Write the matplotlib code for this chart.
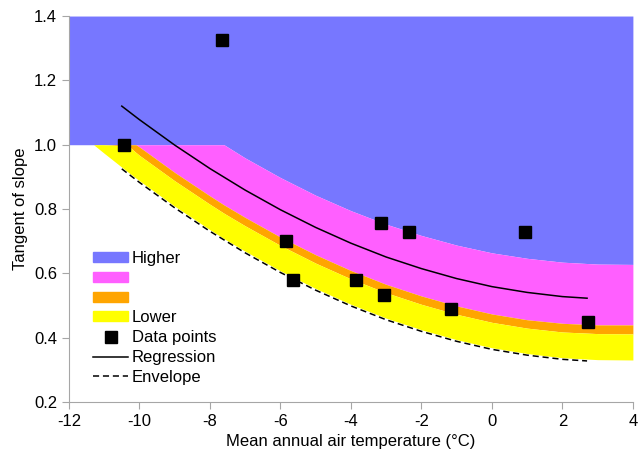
import matplotlib.pyplot as plt
from matplotlib.patches import Patch
from matplotlib.lines import Line2D

plt.rcParams['font.family'] = ['Liberation Sans', 'DejaVu Sans']
plt.rcParams['axes.unicode_minus'] = False

# data points
temp = [-10.45, -7.66, -5.84, -5.65, -3.15, -2.35, -3.86, -3.06, -1.16, 0.94, 2.72]
slope = [1.0, 1.325, 0.70, 0.58, 0.757, 0.729, 0.58, 0.533, 0.489, 0.729, 0.449]

# regression curve
reg_x = [-10.5, -10, -9, -8, -7, -6, -5, -4, -3, -2, -1, 0, 1, 2, 2.7]
reg_y = [1.120, 1.078, 0.999, 0.926, 0.859, 0.798, 0.743, 0.694, 0.651, 0.615,
         0.584, 0.559, 0.541, 0.528, 0.523]

# envelope curve
env_x = [-10.5, -10, -9, -8, -7, -6, -5, -4, -3, -2, -1, 0, 1, 2, 2.7]
env_y = [0.925, 0.883, 0.804, 0.731, 0.664, 0.603, 0.548, 0.499, 0.456, 0.420,
         0.389, 0.364, 0.346, 0.333, 0.328]

# band boundaries
band_x = [-12, -11.3, -11, -10.3, -10.1, -10, -9, -8, -7.6, -7, -6, -5, -4, -3,
          -2, -1, 0, 1, 2, 3, 4]
magenta_top = [1.0, 1.0, 1.0, 1.0, 1.0, 1.0, 1.0, 1.0, 1.0, 0.959, 0.898, 0.843,
               0.795, 0.753, 0.718, 0.688, 0.664, 0.647, 0.635, 0.629, 0.628]
orange_top = [1.0, 1.0, 1.0, 1.0, 1.0, 0.993, 0.914, 0.841, 0.813, 0.774, 0.713,
              0.658, 0.609, 0.566, 0.530, 0.499, 0.474, 0.456, 0.445, 0.440, 0.440]
orange_bot = [1.0, 1.0, 1.0, 0.995, 0.976, 0.967, 0.888, 0.815, 0.787, 0.748, 0.687,
              0.632, 0.583, 0.540, 0.504, 0.473, 0.448, 0.430, 0.418, 0.413, 0.412]
yellow_bot = [1.0, 1.0, 0.9735, 0.913, 0.8965, 0.888, 0.809, 0.736, 0.708, 0.669,
              0.608, 0.553, 0.504, 0.461, 0.425, 0.394, 0.369, 0.351, 0.338, 0.332,
              0.331]

c_blue = '#7777FF'
c_mag = '#FF5FFF'
c_orange = '#FFA500'
c_yellow = '#FFFF00'

fig = plt.figure(figsize=(6.38, 4.58), dpi=100)
ax = fig.add_axes([0.108, 0.122, 0.884, 0.843])

ax.fill_between(band_x, magenta_top, 1.4, color=c_blue, lw=0)
ax.fill_between(band_x, orange_top, magenta_top, color=c_mag, lw=0)
ax.fill_between(band_x, orange_bot, orange_top, color=c_orange, lw=0)
ax.fill_between(band_x, yellow_bot, orange_bot, color=c_yellow, lw=0)

ax.plot(reg_x, reg_y, color='black', lw=1.1)
ax.plot(env_x, env_y, color='black', lw=1.1, ls=(0, (4, 2.5)))
ax.plot(temp, slope, ls='none', marker='s', ms=8.5, color='black')

ax.set_xlim(-12, 4)
ax.set_ylim(0.2, 1.4)
ax.set_xticks(range(-12, 5, 2))
ax.set_yticks([0.2, 0.4, 0.6, 0.8, 1.0, 1.2, 1.4])
ax.set_yticklabels(['0.2', '0.4', '0.6', '0.8', '1.0', '1.2', '1.4'])

for s in ['top', 'right']:
    ax.spines[s].set_visible(False)
for s in ['left', 'bottom']:
    ax.spines[s].set_color('#A6A6A6')
ax.tick_params(colors='#A6A6A6', labelcolor='black', labelsize=12, length=5)

ax.set_xlabel('Mean annual air temperature (°C)', fontsize=12)
ax.set_ylabel('Tangent of slope', fontsize=12)

handles = [
    Patch(color=c_blue, label='Higher'),
    Patch(color=c_mag, label=' '),
    Patch(color=c_orange, label=' '),
    Patch(color=c_yellow, label='Lower'),
    Line2D([], [], ls='none', marker='s', ms=8, color='black', label='Data points'),
    Line2D([], [], color='black', lw=1.1, label='Regression'),
    Line2D([], [], color='black', lw=1.1, ls=(0, (4, 2.5)), label='Envelope'),
]
ax.legend(handles=handles, loc='lower left', bbox_to_anchor=(0.017, 0.006),
          frameon=False, fontsize=12, handlelength=2.1, handleheight=0.55,
          labelspacing=0.29, handletextpad=0.2)

fig.savefig('out.png', dpi=100)
